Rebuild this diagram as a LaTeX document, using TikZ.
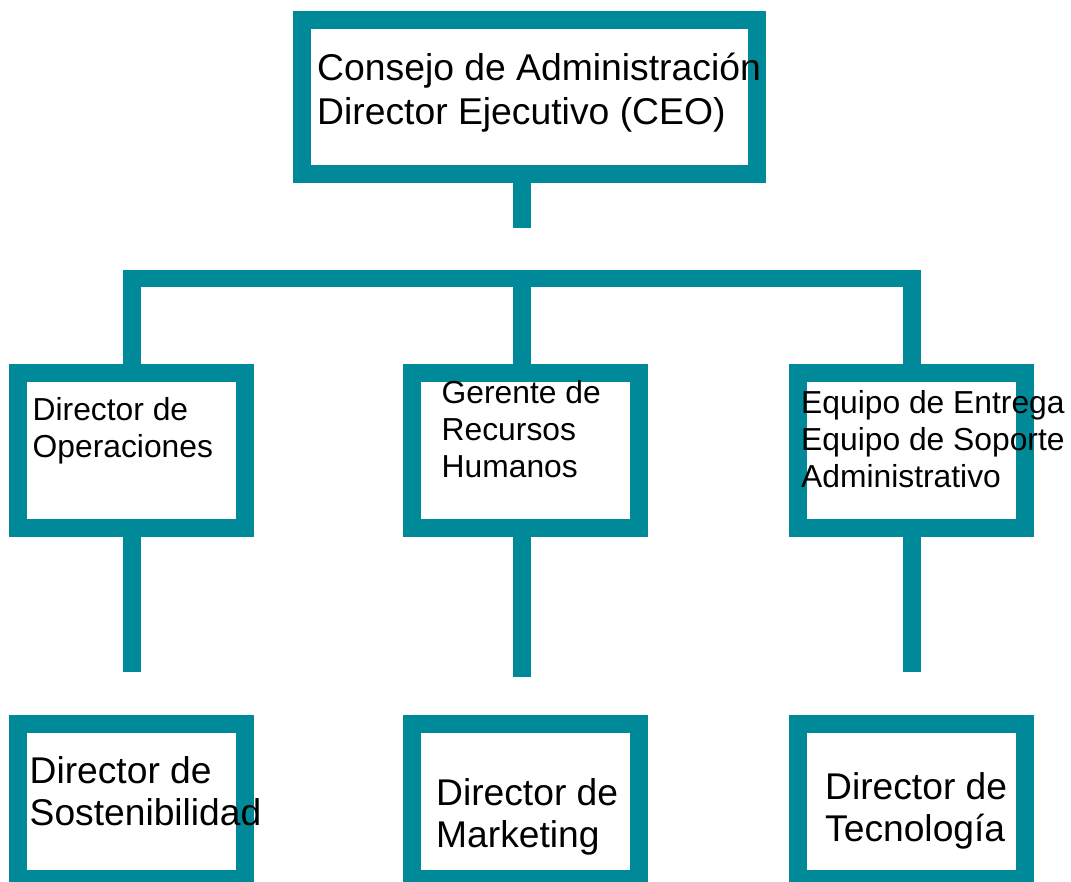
\documentclass[tikz,border=0pt]{standalone}
\usepackage{fontspec}
\setmainfont{Liberation Sans}
\definecolor{orgteal}{RGB}{0,138,153}
\newcommand\txtbig{\fontsize{37.3}{44}\selectfont}
\newcommand\txtmid{\fontsize{31.8}{37}\selectfont}
\newcommand\txtbot{\fontsize{37.2}{42.2}\selectfont}
\tikzset{
  orgbox/.style={draw=orgteal, line width=18pt, inner sep=0pt, rectangle, fill=white},
  link/.style={draw=orgteal, line width=17.4pt, line cap=butt, line join=miter},
  lbl/.style={anchor=base west, inner sep=0pt, text=black}
}
\begin{document}
\begin{tikzpicture}[x=1pt,y=-1pt]
\useasboundingbox (0,0) rectangle (1071,881);
% boxes
\node[orgbox, minimum width=454.8pt, minimum height=154pt] (ceo) at (529.6,97) {};
\node[orgbox, minimum width=227.1pt, minimum height=154.5pt] (ops) at (131.85,450.45) {};
\node[orgbox, minimum width=227.2pt, minimum height=154.5pt] (hr) at (525.1,450.45) {};
\node[orgbox, minimum width=227.1pt, minimum height=154.5pt] (team) at (911.85,450.45) {};
\node[orgbox, minimum width=227.1pt, minimum height=154.7pt] (sus) at (131.85,801.65) {};
\node[orgbox, minimum width=227.2pt, minimum height=154.7pt] (mkt) at (525.1,801.65) {};
\node[orgbox, minimum width=227.1pt, minimum height=154.7pt] (tec) at (911.85,801.65) {};
% connector coordinates
\coordinate (stemend) at (521.8,227.7);
\coordinate (barL) at (132,278.7);
\coordinate (barM) at (521.8,278.7);
\coordinate (barR) at (912,278.7);
\coordinate (dropL) at (132,671.7);
\coordinate (dropM) at (521.8,677.3);
\coordinate (dropR) at (912,671.7);
% connectors
\draw[link] (stemend |- ceo.south) -- (stemend);
\draw[link] (barL |- ops.north) -- (barL) -- (barR) -- (barR |- team.north);
\draw[link] (barM) -- (barM |- hr.north);
\draw[link] (dropL |- ops.south) -- (dropL);
\draw[link] (dropM |- hr.south) -- (dropM);
\draw[link] (dropR |- team.south) -- (dropR);
% texts
\node[lbl] (tceo) at (317,80) {\txtbig\begin{tabular}[t]{@{}l@{}}Consejo de Administración\\Director Ejecutivo (CEO)\end{tabular}};
\node[lbl] (tops) at (32.5,420) {\txtmid\begin{tabular}[t]{@{}l@{}}Director de\\Operaciones\end{tabular}};
\node[lbl] (thr) at (441.5,403.3) {\txtmid\begin{tabular}[t]{@{}l@{}}Gerente de\\Recursos\\Humanos\end{tabular}};
\node[lbl] (tteam) at (801,413.3) {\txtmid\begin{tabular}[t]{@{}l@{}}Equipo de Entrega\\Equipo de Soporte\\Administrativo\end{tabular}};
\node[lbl] (tsus) at (29.5,783.3) {\txtbot\begin{tabular}[t]{@{}l@{}}Director de\\Sostenibilidad\end{tabular}};
\node[lbl] (tmkt) at (436,805) {\txtbot\begin{tabular}[t]{@{}l@{}}Director de\\Marketing\end{tabular}};
\node[lbl] (ttec) at (825,799.3) {\txtbot\begin{tabular}[t]{@{}l@{}}Director de\\Tecnología\end{tabular}};
\end{tikzpicture}
\end{document}
